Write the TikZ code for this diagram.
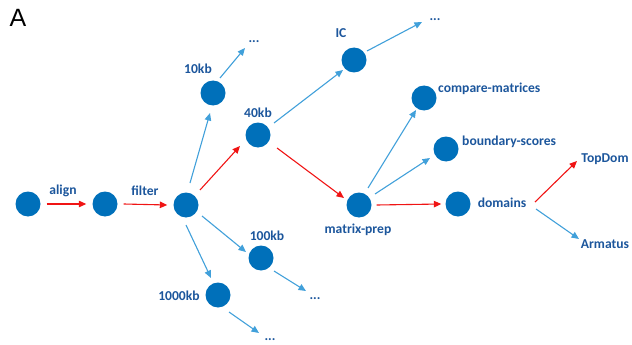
\documentclass[tikz,border=0pt]{standalone}
\usepackage{fontspec}
\setmainfont{Carlito}
\newfontfamily\panelfont{Liberation Sans}
\usetikzlibrary{arrows.meta,calc}
\definecolor{nodeblue}{RGB}{0,112,186}
\definecolor{textblue}{RGB}{28,86,156}
\definecolor{linkblue}{RGB}{65,160,218}
\definecolor{linkred}{RGB}{240,20,20}
\begin{document}
\begin{tikzpicture}[x=1pt,y=-1pt,
  stage/.style={circle,fill=nodeblue,minimum size=25pt,inner sep=0pt},
  lbl/.style={text=textblue,font=\bfseries\fontsize{13.6}{15}\selectfont,inner sep=0pt},
  main/.style={draw=linkred,line width=1.1pt,-{Triangle[length=7.5pt,width=6.5pt]}},
  side/.style={draw=linkblue,line width=1.1pt,-{Triangle[length=7.5pt,width=6.5pt]}}]
\useasboundingbox (0,0) rectangle (632,345);
\node[font=\panelfont\fontsize{25}{28}\selectfont,inner sep=0pt] (panel) at (18,18) {A};

% pipeline stages
\node[stage] (raw) at (28,204) {};
\node[stage] (aligned) at (105,204) {};
\node[stage] (filtered) at (186,205) {};
\node[stage] (k10) at (213,93) {};
\node[stage] (k40) at (258,135) {};
\node[stage] (ic) at (354,60) {};
\node[stage] (cmp) at (424,98) {};
\node[stage] (bnd) at (446,149) {};
\node[stage] (mprep) at (359,205) {};
\node[stage] (dom) at (458,204) {};
\node[stage] (k100) at (261,258) {};
\node[stage] (k1000) at (218,295) {};

% labels
\node[lbl] (tAlign) at (63,191) {align};
\node[lbl] (tFilter) at (145,191) {filter};
\node[lbl] (t10) at (198,69) {10kb};
\node[lbl] (t40) at (258,113) {40kb};
\node[lbl] (tIC) at (341,33) {IC};
\node[lbl,anchor=west] (tCmp) at (438,89) {compare-matrices};
\node[lbl,anchor=west] (tBnd) at (462,142) {boundary-scores};
\node[lbl] (tMprep) at (358,230) {matrix-prep};
\node[lbl] (tDom) at (502,203) {domains};
\node[lbl] (tTop) at (605,159) {TopDom};
\node[lbl] (tArm) at (605,244) {Armatus};
\node[lbl] (t100) at (267,236) {100kb};
\node[lbl] (t1000) at (179,296) {1000kb};
\node[lbl] (d10) at (254,42) {...};
\node[lbl] (dIC) at (435,20) {...};
\node[lbl] (d100) at (315,299) {...};
\node[lbl] (d1000) at (270,340) {...};

% free arrow ends
\coordinate (e10a) at (220,78);  \coordinate (e10b) at (245,48);
\coordinate (eICa) at (367,51);  \coordinate (eICb) at (422,22);
\coordinate (e100a) at (274,271); \coordinate (e100b) at (306,291);
\coordinate (e1000a) at (229,312); \coordinate (e1000b) at (259,333);
\coordinate (eTopA) at (535,202); \coordinate (eTopB) at (577,161);
\coordinate (eArmA) at (536,209); \coordinate (eArmB) at (579,239);

% main (red) path
\draw[main] ([xshift=6pt]raw.east) -- ([xshift=-6pt]aligned.west);
\draw[main] ([xshift=6pt]aligned.east) -- ([xshift=-6pt]filtered.west);
\draw[main] ($(filtered)+(14,-15)$) -- ($(k40)+(-18,11)$);
\draw[main] ($(k40)+(19,13)$) -- ($(mprep)+(-15,-7)$);
\draw[main] ([xshift=5pt]mprep.east) -- ([xshift=-4pt]dom.west);
\draw[main] (eTopA) -- (eTopB);

% side (blue) branches
\draw[side] ($(filtered)+(4,-22)$) -- ($(k10)+(-3,20)$);
\draw[side] ($(filtered)+(16,11)$) -- ($(k100)+(-15,-6)$);
\draw[side] ($(filtered)+(0,20)$) -- ($(k1000)+(-7,-17)$);
\draw[side] ($(k40)+(16,-12)$) -- ($(ic)+(-11,10)$);
\draw[side] ($(mprep)+(9,-17)$) -- ($(cmp)+(-8,12)$);
\draw[side] ($(mprep)+(16,-11)$) -- ($(bnd)+(-16,9)$);
\draw[side] (e10a) -- (e10b);
\draw[side] (eICa) -- (eICb);
\draw[side] (e100a) -- (e100b);
\draw[side] (e1000a) -- (e1000b);
\draw[side] (eArmA) -- (eArmB);
\end{tikzpicture}
\end{document}
